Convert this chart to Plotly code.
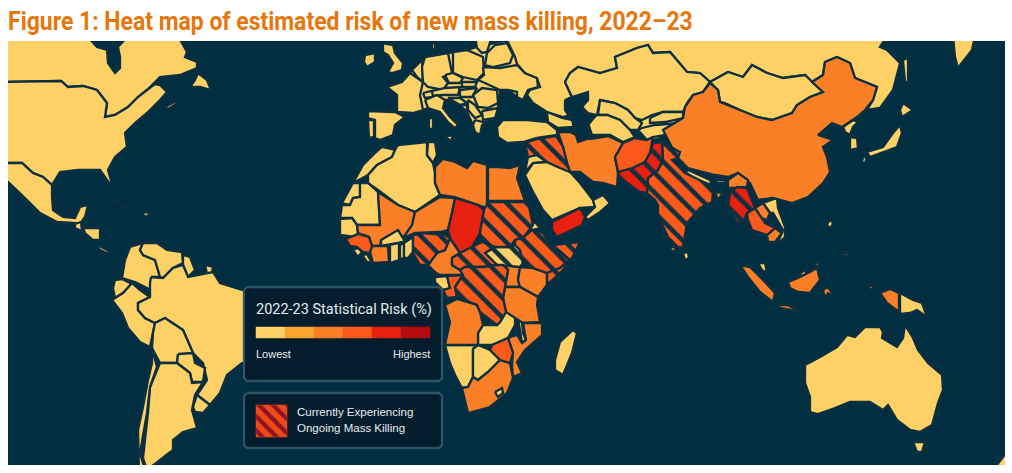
import plotly.graph_objects as go

# outlines are read off the picture, x/y in map plane units (no base map without network)
canada = [(4,36),(87,36),(97,47),(107,50),(108,63),(115,73),(120,68),(120,57),(118,47),(128,36),(178,36),(187,52),(185,57),(197,62),(197,68),(180,75),(160,77),(147,90),(138,97),(128,107),(115,115),(105,117),(107,103),(97,90),(83,86),(68,87),(61,81),(4,82)]
newfoundland = [(198,73),(207,80),(211,90),(200,87),(190,87),(195,80)]
nova_scotia = [(165,107),(178,100),(176,104),(168,109)]
usa = [(4,82),(61,81),(68,87),(83,86),(97,90),(107,103),(105,117),(115,115),(128,107),(138,97),(147,90),(155,84),(160,85),(167,92),(160,100),(147,113),(135,123),(125,133),(127,147),(115,157),(108,170),(113,188),(107,180),(100,170),(78,170),(60,172),(52,185),(43,177),(33,173),(22,163),(4,163)]
mexico = [(4,163),(22,163),(33,173),(43,177),(52,185),(52,197),(53,210),(63,217),(75,218),(80,207),(88,205),(85,217),(80,224),(73,223),(57,222),(40,213),(27,200),(10,183),(4,178)]
guatemala = [(75,224),(81,222),(82,231),(75,228)]
honduras = [(83,228),(100,228),(100,240),(93,240),(85,233)]
panama = [(95,243),(103,248),(113,253),(107,253),(100,250)]
cuba = [(108,198),(118,202),(130,208),(120,205)]
hispaniola = [(142,212),(152,213),(145,217)]
colombia = [(143,243),(140,250),(143,255),(155,260),(160,277),(152,277),(150,290),(147,288),(135,282),(122,278),(125,260),(130,247)]
venezuela = [(143,243),(157,243),(167,250),(182,252),(183,263),(173,268),(163,278),(160,277),(155,260),(143,255),(140,250)]
guyana = [(183,255),(190,257),(195,270),(188,277),(183,265)]
guiana = [(205,265),(213,267),(212,273),(207,274)]
ecuador = [(115,280),(122,279),(132,284),(123,293),(115,298),(113,288)]
peru = [(112,300),(123,293),(132,283),(140,290),(150,297),(138,303),(138,310),(145,318),(155,323),(153,333),(150,347),(140,342),(128,328),(122,313)]
brazil = [(151,277),(163,278),(173,268),(183,265),(188,277),(197,275),(213,272),(220,283),(242,290),(252,292),(252,362),(242,363),(227,375),(220,393),(210,405),(197,395),(207,380),(203,363),(193,353),(183,330),(165,318),(155,323),(145,318),(138,310),(138,303),(150,297),(150,283)]
bolivia = [(155,323),(165,318),(183,330),(193,353),(178,355),(177,363),(160,363),(152,348),(153,333)]
paraguay = [(178,354),(193,353),(195,363),(205,368),(203,382),(192,382),(190,373),(177,363)]
uruguay = [(197,395),(210,405),(203,413),(195,412),(193,407)]
argentina = [(160,363),(177,363),(190,373),(192,383),(203,382),(195,395),(192,410),(197,428),(183,432),(173,440),(173,450),(147,470),(143,458),(148,413),(150,387),(157,370)]
chile = [(152,348),(157,367),(150,387),(147,413),(140,453),(145,470),(139,470),(138,430),(143,407),(148,380),(152,363)]

morocco = [(382,147),(395,150),(392,157),(377,165),(368,175),(353,183),(342,203),(350,188),(363,165),(375,153)]
w_sahara = [(342,203),(350,205),(353,198),(360,197),(360,183),(353,183)]
algeria = [(395,150),(398,145),(427,142),(427,155),(433,163),(435,173),(435,183),(440,195),(415,212),(398,205),(378,190),(368,183),(368,175),(377,165),(392,157)]
tunisia = [(428,142),(435,142),(437,155),(433,163),(427,155)]
libya = [(435,167),(443,159),(455,162),(467,168),(473,161),(487,165),(487,208),(478,205),(455,197),(440,195),(435,183)]
egypt = [(488,167),(498,167),(510,168),(520,165),(517,178),(525,201),(488,201)]
mauritania = [(342,205),(350,205),(353,198),(360,197),(360,183),(368,183),(378,192),(380,225),(357,225),(352,218),(340,218)]
senegal = [(340,219),(352,218),(357,225),(358,233),(355,237),(340,235)]
guinea = [(346,239),(358,234),(369,237),(372,246),(370,252),(368,253),(363,252),(357,247),(350,246)]
sierra_leone = [(353,250),(358,248),(362,252),(358,257)]
liberia = [(362,255),(367,254),(372,263),(367,262)]
ivory_coast = [(372,246),(380,246),(388,246),(389,262),(373,263),(370,252)]
burkina = [(381,240),(392,232),(398,230),(403,238),(405,241),(398,243),(388,245),(381,246)]
ghana = [(390,245),(399,243),(399,260),(390,263)]
togo = [(400,245),(404,243),(404,258),(400,259)]
benin = [(404,243),(413,237),(413,252),(408,258),(404,258)]
mali = [(378,192),(398,205),(415,212),(412,228),(403,238),(398,230),(381,240),(380,246),(372,246),(369,237),(358,233),(357,225),(380,225)]
niger = [(440,197),(455,198),(452,213),(448,230),(440,232),(415,233),(403,238),(412,225),(415,212)]
chad = [(455,198),(478,205),(484,210),(482,222),(480,233),(472,247),(460,253),(450,238),(448,230),(452,213)]
sudan = [(488,202),(528,202),(533,225),(523,238),(515,240),(510,247),(495,247),(482,242),(480,233),(482,222),(484,210)]
eritrea = [(530,227),(535,222),(540,228),(532,230)]
ethiopia = [(523,238),(532,230),(543,233),(552,247),(570,260),(560,268),(547,273),(533,268),(523,263),(520,250),(515,245),(515,240)]
somalia = [(553,245),(580,242),(572,258),(563,270),(547,285),(547,273),(560,268),(570,260)]
south_sudan = [(485,253),(495,247),(510,247),(515,245),(520,250),(523,263),(520,267),(503,265),(497,265)]
car = [(452,258),(460,253),(472,247),(482,242),(495,247),(485,253),(497,265),(483,267),(465,267),(460,270),(452,265)]
nigeria = [(413,235),(423,233),(445,235),(450,238),(445,250),(437,253),(428,265),(420,265),(413,253)]
cameroon = [(450,238),(460,253),(452,258),(452,265),(460,270),(463,275),(440,275),(435,272),(428,265),(437,253),(445,250)]
gabon = [(435,277),(447,276),(450,288),(443,290),(435,282)]
congo = [(447,276),(463,275),(455,287),(457,297),(447,298),(443,290),(450,288)]
drc = [(460,270),(465,267),(483,267),(497,265),(503,265),(508,270),(505,287),(503,298),(506,312),(500,322),(497,325),(480,312),(477,305),(457,297),(455,287),(463,275)]
uganda = [(503,265),(520,267),(518,280),(520,287),(505,287),(508,270)]
kenya = [(520,267),(533,268),(547,273),(547,285),(538,297),(520,287),(518,280)]
tanzania = [(505,287),(520,287),(538,297),(537,305),(540,322),(523,323),(506,312),(503,298)]
angola = [(445,305),(457,299),(477,305),(480,312),(483,325),(478,333),(478,345),(445,345),(450,322)]
zambia = [(483,325),(497,325),(500,322),(506,312),(515,315),(515,325),(508,338),(492,345),(478,345),(478,333)]
malawi = [(518,318),(522,322),(523,333),(526,340),(522,343),(520,330)]
mozambique = [(523,323),(542,323),(542,335),(525,350),(517,362),(522,373),(513,377),(512,365),(513,353),(508,338),(517,335),(522,343),(526,340)]
zimbabwe = [(508,338),(513,353),(510,363),(500,360),(490,350),(492,345)]
namibia = [(445,345),(478,345),(473,349),(473,377),(468,387),(462,388),(455,375),(450,363)]
botswana = [(473,349),(478,345),(490,350),(500,360),(488,372),(478,380),(473,377)]
south_africa = [(473,377),(478,380),(488,372),(500,360),(510,363),(513,378),(507,393),(490,407),(468,413),(462,388),(468,387)]
lesotho = [(495,392),(502,388),(503,393),(498,397)]
madagascar = [(573,330),(577,333),(572,353),(563,375),(555,370),(555,360),(560,342),(568,335)]

europe_land = [(387,87),(402,82),(410,73),(412,70),(422,60),(425,57),(448,53),(467,50),(477,47),(505,41),(540,87),(528,90),(523,100),(517,97),(508,90),(500,90),(498,103),(498,108),(495,118),(492,120),(482,125),(480,135),(475,132),(473,125),(467,112),(460,105),(452,100),(445,100),(443,108),(450,117),(458,125),(455,128),(448,122),(440,112),(428,108),(423,110),(413,113),(397,112),(397,95)]
ireland = [(365,55),(375,53),(375,62),(367,67),(364,62)]
uk = [(383,43),(393,45),(395,53),(403,63),(402,70),(392,73),(388,72),(393,63),(388,55),(383,52)]
france = [(410,73),(423,82),(420,95),(423,110),(413,113),(397,112),(397,95),(387,87),(402,82)]
spain = [(368,111),(395,112),(405,117),(395,125),(393,135),(380,140),(375,138),(375,120),(368,118)]
portugal = [(368,120),(374,120),(374,137),(369,138)]
benelux = [(412,70),(422,60),(423,82),(417,77)]
germany = [(425,57),(448,53),(452,73),(443,77),(448,83),(443,90),(428,87),(423,82),(422,67)]
poland = [(453,52),(467,50),(483,57),(484,73),(477,80),(463,77),(453,73)]
czechia = [(445,75),(453,73),(463,78),(460,83),(449,83)]
austria = [(428,92),(445,88),(460,87),(458,95),(443,95),(433,96)]
slovakia = [(462,82),(477,82),(475,87),(462,87)]
hungary = [(460,90),(477,88),(472,97),(460,97)]
switzerland = [(423,93),(432,91),(433,97),(425,98)]
italy = [(425,100),(437,95),(445,100),(443,108),(450,117),(458,125),(455,128),(448,122),(440,112),(428,108)]
sicily = [(445,137),(453,135),(451,141)]
sardinia = [(429,118),(433,118),(433,129),(429,129)]
croatia = [(448,98),(460,98),(467,103),(460,105),(455,102)]
bosnia = [(460,105),(467,105),(467,112)]
serbia = [(468,100),(475,105),(482,115),(475,118),(468,110)]
romania = [(473,95),(482,88),(497,90),(498,103),(488,108),(478,107)]
bulgaria = [(482,111),(498,108),(495,118),(483,120)]
greece = [(475,120),(483,122),(492,120),(482,125),(480,135),(475,132),(473,125)]
ukraine = [(483,67),(500,68),(517,65),(525,73),(537,78),(538,87),(528,90),(523,100),(517,97),(517,92),(508,90),(500,90),(485,83),(478,80),(484,75)]
belarus = [(487,53),(495,45),(507,43),(513,55),(510,63),(493,67),(485,65)]
baltics = [(475,36),(492,36),(487,52),(482,53),(477,48)]
denmark = [(432,43),(435,43),(435,50),(432,48)]
russia = [(505,36),(515,57),(517,64),(525,73),(537,78),(540,87),(530,90),(527,95),(533,103),(547,112),(563,117),(570,115),(566,100),(572,97),(565,82),(570,73),(578,67),(600,73),(617,68),(615,57),(637,48),(648,45),(653,53),(670,52),(687,72),(700,73),(710,82),(728,72),(743,77),(752,65),(767,73),(783,78),(805,75),(812,82),(823,75),(825,62),(837,57),(850,63),(855,78),(877,87),(873,100),(867,110),(880,108),(893,90),(900,63),(887,50),(880,47),(887,36)]
far_east = [(953,36),(975,36),(972,50),(958,68),(955,57)]
sakhalin = [(903,60),(908,58),(908,82),(905,82)]
hokkaido = [(903,103),(913,110),(902,117),(900,110)]
honshu = [(900,125),(902,133),(897,147),(883,152),(870,157),(867,152),(883,147),(893,133)]
kyushu = [(863,157),(867,157),(865,163),(862,162)]
n_korea = [(843,127),(853,120),(858,122),(853,127),(850,135),(845,132)]
s_korea = [(850,137),(857,138),(858,148),(850,150)]
mongolia = [(710,82),(728,72),(743,77),(752,65),(767,73),(783,78),(805,75),(812,82),(823,92),(810,97),(797,105),(792,113),(772,120),(757,117),(740,110),(725,103),(720,102),(718,90)]
china = [(710,83),(718,90),(720,102),(740,110),(757,117),(772,120),(792,113),(797,105),(810,97),(823,92),(812,82),(823,75),(825,62),(837,57),(850,63),(855,78),(877,87),(873,100),(865,110),(857,117),(842,127),(832,123),(818,135),(833,140),(823,147),(827,157),(830,172),(823,183),(808,197),(792,203),(773,198),(758,200),(750,183),(738,173),(728,177),(715,175),(688,168),(677,157),(670,143),(663,130),(683,118),(685,107),(693,95),(703,92)]
kazakhstan = [(565,82),(570,73),(578,67),(600,73),(617,68),(615,57),(637,48),(648,45),(653,53),(670,52),(687,72),(700,73),(710,82),(703,92),(693,95),(687,103),(683,112),(663,112),(652,115),(642,120),(635,118),(628,110),(615,103),(600,100),(597,115),(588,113),(583,108),(572,97)]
central_asia_land = [(642,118),(663,110),(685,108),(683,118),(663,130),(660,138),(653,140),(638,130)]
uzbekistan = [(600,100),(615,103),(628,110),(635,118),(642,123),(638,130),(630,130),(620,120),(607,115),(598,115)]
turkmenistan = [(588,123),(597,115),(607,115),(620,120),(630,130),(635,137),(623,142),(610,135),(592,135)]
afghanistan = [(618,152),(623,143),(635,138),(647,140),(653,137),(650,153),(645,162),(633,168),(618,172),(615,157)]
kyrgyzstan = [(650,118),(663,112),(683,112),(683,118),(665,122),(650,123)]
tajikistan = [(642,128),(655,125),(680,123),(665,135),(653,137),(647,140),(638,130)]
caspian = [(565,100),(572,97),(588,92),(588,100),(582,107),(587,115),(593,119),(588,125),(590,138),(578,142),(575,132),(573,122),(565,110)]
iran = [(558,132),(570,132),(580,137),(590,139),(608,136),(623,143),(618,152),(615,157),(618,172),(617,187),(603,183),(593,182),(580,172),(570,172),(567,163),(563,147)]
turkey = [(497,127),(503,120),(527,120),(547,122),(557,130),(557,135),(537,138),(523,142),(507,143),(498,137)]
caucasus = [(547,112),(562,118),(573,120),(573,127),(558,128),(548,122)]
iraq_syria = [(525,143),(537,139),(556,136),(563,147),(567,163),(570,172),(560,168),(547,162),(537,155),(528,157)]
jordan = [(525,172),(528,157),(537,155),(547,162),(533,163)]
saudi = [(525,175),(533,163),(547,162),(560,168),(570,172),(580,183),(593,200),(595,207),(580,208),(552,220),(543,210),(532,190)]
oman = [(593,200),(603,195),(610,203),(600,212),(588,220),(585,217),(595,207)]
yemen = [(552,222),(580,208),(585,217),(582,225),(557,237),(552,230)]
pakistan = [(618,172),(633,168),(645,162),(650,153),(653,143),(662,142),(663,160),(658,170),(648,178),(647,193),(640,192),(627,183),(620,178)]
india = [(662,142),(672,148),(680,152),(678,158),(672,160),(685,173),(710,185),(713,192),(712,202),(700,208),(687,223),(683,247),(678,247),(668,237),(658,215),(658,205),(655,200),(647,193),(648,178),(658,170),(663,160)]
nepal = [(685,172),(688,170),(710,180),(712,185),(697,180)]
bhutan = [(715,180),(725,180),(725,183),(717,183)]
bangladesh = [(715,192),(723,193),(718,200)]
assam = [(728,180),(738,173),(748,180),(747,187),(735,188),(728,188)]
myanmar = [(730,193),(737,187),(747,188),(755,208),(747,213),(743,223),(737,222),(728,207)]
thailand = [(747,213),(755,208),(765,223),(775,228),(767,235),(752,230),(748,220)]
laos = [(755,208),(763,203),(770,213),(767,220),(761,218)]
vietnam = [(763,203),(777,198),(778,208),(785,227),(785,237),(777,245),(783,230),(773,213),(770,213)]
cambodia = [(767,235),(775,228),(782,233),(775,242),(768,242)]
sri_lanka = [(683,253),(688,252),(689,258),(685,260)]
maldives = [(670,247),(675,247),(676,251),(671,251)]
hainan = [(787,213),(792,212),(790,215)]
luzon = [(828,222),(833,220),(832,227),(827,227)]
mindanao = [(842,253),(848,252),(847,257)]
malay_north = [(750,252),(757,257),(753,256)]
malaysia = [(758,263),(765,263),(767,273),(762,270)]
sumatra = [(740,265),(750,267),(763,280),(775,293),(773,302),(760,292),(748,277)]
java = [(777,305),(787,305),(802,312),(790,310),(780,308)]
borneo = [(788,282),(798,278),(808,273),(817,268),(820,280),(810,293),(798,292),(790,288)]
sarawak = [(795,277),(805,270),(808,268),(805,275)]
sabah = [(812,265),(818,262),(820,266)]
sulawesi = [(823,290),(828,287),(835,297),(828,293),(825,298)]
seram = [(867,285),(875,287),(871,290)]
papua = [(880,293),(890,289),(899,293),(899,312),(887,303)]
png = [(900,293),(913,300),(922,303),(927,317),(917,310),(910,313),(900,314)]
australia = [(805,365),(820,357),(837,347),(847,335),(855,337),(865,327),(880,327),(883,332),(882,338),(897,347),(903,338),(905,325),(913,338),(918,350),(928,363),(942,375),(943,390),(938,403),(932,425),(920,432),(910,430),(897,420),(888,405),(883,410),(870,402),(850,402),(835,408),(818,414),(810,412),(810,397),(805,383)]
tasmania = [(913,442),(925,442),(922,452),(917,452)]
new_zealand = [(993,470),(1010,448),(1010,470)]

lowest = [europe_land, central_asia_land, canada, newfoundland, nova_scotia, usa, mexico, guatemala, honduras, panama, cuba, hispaniola, colombia, venezuela, guyana, guiana, ecuador, peru, brazil, bolivia, paraguay, uruguay, argentina, chile,
          morocco, w_sahara, algeria, tunisia, mauritania, senegal, sierra_leone, liberia, burkina, ghana, togo, benin, eritrea, gabon, zambia, malawi, namibia, botswana, madagascar,
          ireland, uk, france, spain, portugal, benelux, germany, poland, czechia, austria, slovakia, hungary, switzerland, italy, sicily, sardinia, croatia, bosnia, serbia, romania, bulgaria, greece, ukraine, belarus, baltics, denmark,
          russia, far_east, sakhalin, hokkaido, honshu, kyushu, n_korea, s_korea, mongolia, kazakhstan, uzbekistan, turkmenistan, kyrgyzstan, tajikistan, turkey, caucasus, jordan, saudi, oman,
          nepal, bhutan, vietnam, sri_lanka, luzon, mindanao, malaysia, sarawak, sabah, png, australia, tasmania, new_zealand]
medium = [libya, egypt, mali, niger, ivory_coast, cameroon, uganda, kenya, tanzania, angola, mozambique, south_africa, iran, china, bangladesh, assam, laos, cambodia, maldives, hainan, malay_north, sumatra, java, borneo, sulawesi, seram, papua]
high = [guinea, congo, zimbabwe, afghanistan, thailand]
very_high = [chad, yemen]
hatched_high = [sudan, ethiopia, somalia, car, nigeria, drc, iraq_syria, india]
hatched_very_high = [pakistan, myanmar]
hatched_low = [south_sudan]

risk_colors = ["#fdd165", "#fba531", "#fb7f27", "#fb5a1a", "#e8200f", "#b50c12"]
risk_edges = [256, 285, 314, 343, 372, 401, 430]

OCEAN = "#012f41"
BORDER = "#0d3040"
PANEL = "#041d2d"
PANEL_EDGE = "#2c5465"

fig = go.Figure()


def add_shape(points, color, pattern=None, line=BORDER, width=2.3):
    xs = [p[0] for p in points] + [points[0][0]]
    ys = [p[1] for p in points] + [points[0][1]]
    fig.add_trace(go.Scatter(x=xs, y=ys, mode="lines", fill="toself", fillcolor=color,
                             fillpattern=pattern, line=dict(color=line, width=width),
                             hoverinfo="skip", showlegend=False))


def stripes(bg):
    return dict(shape="\\", bgcolor=bg, fgcolor=BORDER, fgopacity=1, size=14, solidity=0.33)


for c in lowest:
    add_shape(c, risk_colors[0])
for c in medium:
    add_shape(c, risk_colors[2])
for c in high:
    add_shape(c, risk_colors[3])
for c in very_high:
    add_shape(c, risk_colors[4])
for c in hatched_low:
    add_shape(c, risk_colors[0], stripes(risk_colors[0]))
for c in hatched_high:
    add_shape(c, risk_colors[3], stripes(risk_colors[3]))
for c in hatched_very_high:
    add_shape(c, risk_colors[4], stripes(risk_colors[4]))
add_shape(caspian, OCEAN)
add_shape(lesotho, risk_colors[0])

# legend panels
risk_panel = [(247,287),(439,287),(442,290),(442,378),(439,381),(247,381),(244,378),(244,290)]
hatch_panel = [(247,393),(439,393),(442,396),(442,445),(439,448),(247,448),(244,445),(244,396)]
hatch_swatch = [(256,405),(287,405),(287,437),(256,437)]
add_shape(risk_panel, PANEL, line=PANEL_EDGE)
add_shape(hatch_panel, PANEL, line=PANEL_EDGE)
for i, col in enumerate(risk_colors):
    add_shape([(risk_edges[i],327),(risk_edges[i+1],327),(risk_edges[i+1],338),(risk_edges[i],338)], col, line=col, width=0.5)
add_shape(hatch_swatch, "#f04a18", dict(shape="\\", bgcolor="#f04a18", fgcolor="#8c1420", fgopacity=1, size=10, solidity=0.42), line="#f04a18", width=0.5)

labels = [("2022-23 Statistical Risk (%)", 254, 309, "left", 14.5, "Roboto"),
          ("Lowest", 254, 354, "left", 11, "Liberation Sans"),
          ("Highest", 432, 354, "right", 11, "Liberation Sans"),
          ("Currently Experiencing", 295, 412, "left", 11.5, "Liberation Sans"),
          ("Ongoing Mass Killing", 295, 428, "left", 11.5, "Liberation Sans")]
for text, x, y, anchor, size, family in labels:
    fig.add_annotation(x=x, y=y, text=text, showarrow=False, xanchor=anchor, yanchor="middle",
                       font=dict(family=family, size=size, color="#e8edf0"))

fig.update_layout(
    width=1012, height=473,
    margin=dict(l=8, r=7, t=41, b=8),
    paper_bgcolor="white", plot_bgcolor=OCEAN,
    title=dict(text="<b>Figure 1: Heat map of estimated risk of new mass killing, 2022–23</b>",
               x=0.008, xanchor="left", y=0.955, yanchor="middle",
               font=dict(family="Roboto", size=25, color="#e8760c")),
    xaxis=dict(range=[8, 1005], visible=False, fixedrange=True),
    yaxis=dict(range=[465, 41], visible=False, fixedrange=True),
)

# page margin off, title squeezed to the condensed width of the original
squeeze = """
document.body.style.margin = '0';
var t = document.querySelector('.gtitle');
var b = t.getBBox();
var k = 685 / b.width;
t.setAttribute('transform', 'translate(' + b.x + ' 0) scale(' + k + ' 1) translate(' + (-b.x) + ' 0)');
"""
fig.write_html("out.html", post_script=squeeze, config={"displayModeBar": False})
